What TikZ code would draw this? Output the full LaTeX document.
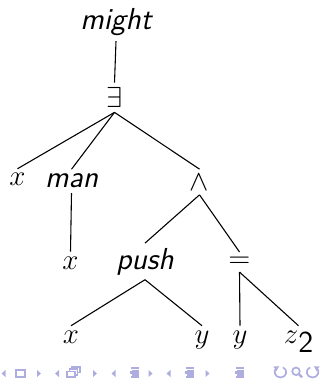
\documentclass[tikz,border=0pt]{standalone}
\usetikzlibrary{arrows.meta}
\definecolor{navcol}{RGB}{173,173,224}
\begin{document}
\begin{tikzpicture}[x=0.415pt,y=-0.415pt,
  font=\fontsize{12.6}{15}\selectfont,
  lbl/.style={inner sep=0pt, outer sep=2pt},
  word/.style={lbl, font=\fontsize{12.6}{15}\selectfont\sffamily\itshape},
  edge/.style={line width=0.45pt},
  nav/.style={draw=navcol, line width=0.7pt}]
\useasboundingbox (0,0) rectangle (323,379);

% tree nodes
\node[word, anchor=base] (might) at (116,30) {might};
\node[lbl] (ex) at (114.5,97.5) {$\exists$};
\node[lbl, anchor=base] (xa) at (17.5,186) {$x$};
\node[word, anchor=base] (man) at (71.5,188) {man};
\node[lbl] (and) at (199.5,182) {$\wedge$};
\node[lbl, anchor=base] (xb) at (70.5,269) {$x$};
\node[word, anchor=base] (push) at (145,269) {push};
\node[lbl] (eq) at (239.5,262) {$=$};
\node[lbl, anchor=base] (xc) at (71,343) {$x$};
\node[lbl, anchor=base] (ya) at (202,343) {$y$};
\node[lbl, anchor=base] (yb) at (240,343) {$y$};
\node[lbl, anchor=base] (z) at (298.5,343) {$z$\raisebox{-0.3em}{\sffamily 2}};

% tree edges
\draw[edge] (might.south) -- (ex.north);
\draw[edge] (ex.south) -- (xa.north);
\draw[edge] (ex.south) -- (man.north);
\draw[edge] (ex.south) -- (and.north);
\draw[edge] (man.south) -- (xb.north);
\draw[edge] (and.south) -- (push.north);
\draw[edge] (and.south) -- (eq.north);
\draw[edge] (push.south) -- (xc.north);
\draw[edge] (push.south) -- (ya.north);
\draw[edge] (eq.south) -- (yb.north);
\draw[edge] (eq.south) -- (z.north);

% navigation symbols
\foreach \t in {1.5,55,111.5,166.5}
  \fill[navcol] (\t,373.5) -- ++(4,-3.5) -- ++(0,7) -- cycle;
\foreach \t in {41,97,152.5,209.5}
  \fill[navcol] (\t,373.5) -- ++(-4,-3.5) -- ++(0,7) -- cycle;
% frame
\draw[nav] (16,370) rectangle (25,377);
% subsection frames
\draw[nav] (72,367) rectangle (80,372.5);
\filldraw[nav, fill=white] (69.5,369.2) rectangle (77.5,374.7);
\filldraw[nav, fill=white] (67,371.5) rectangle (75,377);
% section / subsection / document lists
\foreach \s in {130,185,235}{
  \draw[nav] (\s+1,368.3) -- ++(7.5,0);
  \draw[nav] (\s+2,370.5) -- ++(6.5,0);
  \draw[nav, line width=1.1pt] (\s,372.8) -- ++(8.6,0);
  \draw[nav] (\s+2,375.1) -- ++(6.5,0);
  \draw[nav] (\s+1,377.3) -- ++(7.5,0);
}
% back, search, forward
\draw[nav] (276,368.5) .. controls (273,371) and (275,377.5) .. (280.5,377.5)
  .. controls (286.5,377.5) and (288.5,370) .. (283,367.3);
\fill[navcol] (273.5,366.5) -- (279,366.2) -- (276.5,371.2) -- cycle;
\draw[nav] (296,371.3) circle (3.8);
\draw[nav, line width=1pt] (298.8,374.1) -- (302,377.3);
\draw[nav] (317,368.5) .. controls (320,371) and (318,377.5) .. (312.5,377.5)
  .. controls (306.5,377.5) and (304.5,370) .. (310,367.3);
\fill[navcol] (319.5,366.5) -- (314,366.2) -- (316.5,371.2) -- cycle;
\end{tikzpicture}
\end{document}
